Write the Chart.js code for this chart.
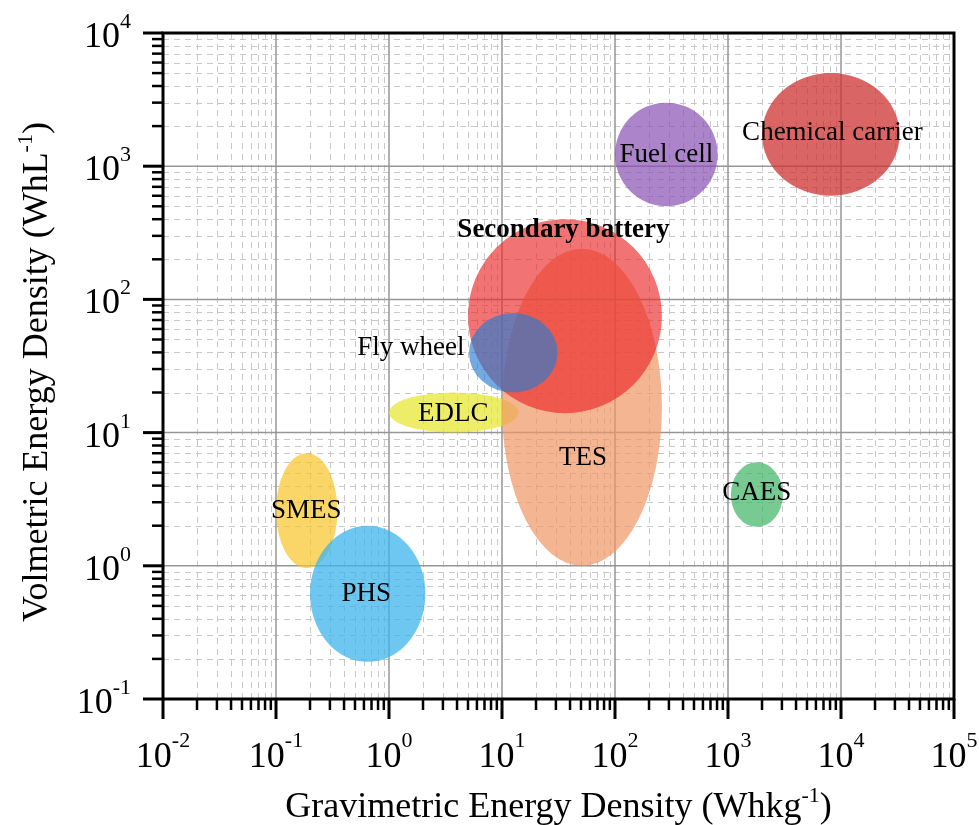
<!DOCTYPE html>
<html>
<head>
<meta charset="utf-8">
<script src="https://cdn.jsdelivr.net/npm/chart.js@4/dist/chart.umd.min.js"></script>
<style>
  html, body { margin: 0; padding: 0; background: #ffffff; }
  #c { display: block; }
</style>
</head>
<body>
<canvas id="c" width="979" height="825"></canvas>
<script>
// Storage technologies, in drawing order (later ones sit on top)
const technologies = ['SMES', 'PHS', 'EDLC', 'TES', 'Secondary battery', 'Fly wheel', 'CAES', 'Fuel cell', 'Chemical carrier'];

// Gravimetric energy density range (Wh/kg)
const gravMin = [0.10, 0.20, 1.0, 10, 5.0, 5.1, 1060, 100, 2000];
const gravMax = [0.35, 2.1, 14, 260, 260, 31, 3060, 810, 33000];

// Volumetric energy density range (Wh/L)
const volMin = [0.96, 0.19, 10, 1.0, 14, 20, 1.96, 500, 600];
const volMax = [7.0, 2.0, 20, 240, 400, 79, 6.0, 3000, 5000];

// Where each name is written (data coordinates)
const labelX = [0.185, 0.63, 3.7, 52, 35, 1.56, 1800, 285, 8400];
const labelY = [2.6, 0.62, 13.9, 6.5, 333, 43, 3.5, 1220, 1780];
const labelBold = [false, false, false, false, true, false, false, false, false];

const fillColors = [
  'rgba(248,195,40,0.70)',   // SMES
  'rgba(60,180,235,0.75)',   // PHS
  'rgba(230,230,40,0.70)',   // EDLC
  'rgba(240,150,100,0.70)',  // TES
  'rgba(235,40,40,0.65)',    // Secondary battery
  'rgba(40,125,210,0.65)',   // Fly wheel
  'rgba(60,180,100,0.70)',   // CAES
  'rgba(135,80,180,0.70)',   // Fuel cell
  'rgba(205,50,50,0.75)'     // Chemical carrier
];

// Axis decades and their tick labels (10 raised to the exponent)
const xDecades = [0.01, 0.1, 1, 10, 100, 1000, 10000, 100000];
const xExponents = ['-2', '-1', '0', '1', '2', '3', '4', '5'];
const yDecades = [0.1, 1, 10, 100, 1000, 10000];
const yExponents = ['-1', '0', '1', '2', '3', '4'];
const minorSteps = [2, 3, 4, 5, 6, 7, 8, 9];

const xTitle = ['Gravimetric Energy Density (Whkg', '-1', ')'];
const yTitle = ['Volmetric Energy Density (WhL', '-1', ')'];

const SERIF = '"Liberation Serif", "Times New Roman", Times, serif';

function minorValues(decades) {
  const out = [];
  for (let i = 0; i < decades.length - 1; i++) {
    for (const m of minorSteps) out.push(decades[i] * m);
  }
  return out;
}

// Draws "base" followed by a raised exponent
function drawPower(ctx, base, exp, x, y, align, baseSize, expSize, raise) {
  ctx.font = baseSize + 'px ' + SERIF;
  const wb = ctx.measureText(base).width;
  ctx.font = expSize + 'px ' + SERIF;
  const we = ctx.measureText(exp).width;
  const total = wb + we;
  let left = x;
  if (align === 'center') left = x - total / 2;
  else if (align === 'right') left = x - total;
  ctx.textAlign = 'left';
  ctx.textBaseline = 'alphabetic';
  ctx.font = baseSize + 'px ' + SERIF;
  ctx.fillText(base, left, y);
  ctx.font = expSize + 'px ' + SERIF;
  ctx.fillText(exp, left + wb, y - raise);
}

function drawTitle(ctx, parts, cx, baseline, size, supSize, raise) {
  ctx.font = size + 'px ' + SERIF;
  const w0 = ctx.measureText(parts[0]).width;
  const w2 = ctx.measureText(parts[2]).width;
  ctx.font = supSize + 'px ' + SERIF;
  const w1 = ctx.measureText(parts[1]).width;
  const total = w0 + w1 + w2;
  const left = cx - total / 2;
  ctx.textAlign = 'left';
  ctx.textBaseline = 'alphabetic';
  ctx.font = size + 'px ' + SERIF;
  ctx.fillText(parts[0], left, baseline);
  ctx.font = supSize + 'px ' + SERIF;
  ctx.fillText(parts[1], left + w0, baseline - raise);
  ctx.font = size + 'px ' + SERIF;
  ctx.fillText(parts[2], left + w0 + w1, baseline);
}

const regionPlugin = {
  id: 'regions',
  beforeDatasetsDraw(chart) {
    const { ctx, chartArea: a, scales: { x, y } } = chart;
    ctx.save();
    // minor grid: dashed
    ctx.strokeStyle = 'rgb(200,200,200)';
    ctx.lineWidth = 1;
    ctx.setLineDash([6, 5]);
    for (const v of minorValues(xDecades)) {
      const px = Math.round(x.getPixelForValue(v)) + 0.5;
      ctx.beginPath(); ctx.moveTo(px, a.top); ctx.lineTo(px, a.bottom); ctx.stroke();
    }
    for (const v of minorValues(yDecades)) {
      const py = Math.round(y.getPixelForValue(v)) + 0.5;
      ctx.beginPath(); ctx.moveTo(a.left, py); ctx.lineTo(a.right, py); ctx.stroke();
    }
    // major grid: solid
    ctx.setLineDash([]);
    ctx.strokeStyle = 'rgb(150,150,150)';
    ctx.lineWidth = 1.5;
    for (const v of xDecades) {
      const px = x.getPixelForValue(v);
      ctx.beginPath(); ctx.moveTo(px, a.top); ctx.lineTo(px, a.bottom); ctx.stroke();
    }
    for (const v of yDecades) {
      const py = y.getPixelForValue(v);
      ctx.beginPath(); ctx.moveTo(a.left, py); ctx.lineTo(a.right, py); ctx.stroke();
    }
    ctx.restore();
  },
  afterDatasetsDraw(chart) {
    const { ctx, scales: { x, y } } = chart;
    ctx.save();
    chart.data.datasets.forEach((ds) => {
      const [p0, p1] = ds.data;
      const x0 = x.getPixelForValue(p0.x), x1 = x.getPixelForValue(p1.x);
      const y0 = y.getPixelForValue(p0.y), y1 = y.getPixelForValue(p1.y);
      ctx.beginPath();
      ctx.ellipse((x0 + x1) / 2, (y0 + y1) / 2, Math.abs(x1 - x0) / 2, Math.abs(y1 - y0) / 2, 0, 0, Math.PI * 2);
      ctx.fillStyle = ds.backgroundColor;
      ctx.fill();
    });
    // names
    ctx.fillStyle = '#000';
    ctx.textAlign = 'center';
    ctx.textBaseline = 'middle';
    technologies.forEach((name, i) => {
      ctx.font = (labelBold[i] ? 'bold ' : '') + '27px ' + SERIF;
      ctx.fillText(name, x.getPixelForValue(labelX[i]), y.getPixelForValue(labelY[i]));
    });
    ctx.restore();
  },
  afterDraw(chart) {
    const { ctx, chartArea: a, scales: { x, y } } = chart;
    ctx.save();
    ctx.strokeStyle = '#000';
    ctx.lineCap = 'butt';
    // ticks on left and bottom, pointing outward
    ctx.lineWidth = 3;
    for (const v of xDecades) {
      const px = x.getPixelForValue(v);
      ctx.beginPath(); ctx.moveTo(px, a.bottom); ctx.lineTo(px, a.bottom + 20); ctx.stroke();
    }
    for (const v of yDecades) {
      const py = y.getPixelForValue(v);
      ctx.beginPath(); ctx.moveTo(a.left, py); ctx.lineTo(a.left - 20, py); ctx.stroke();
    }
    ctx.lineWidth = 2.5;
    for (const v of minorValues(xDecades)) {
      const px = x.getPixelForValue(v);
      ctx.beginPath(); ctx.moveTo(px, a.bottom); ctx.lineTo(px, a.bottom + 11); ctx.stroke();
    }
    for (const v of minorValues(yDecades)) {
      const py = y.getPixelForValue(v);
      ctx.beginPath(); ctx.moveTo(a.left, py); ctx.lineTo(a.left - 11, py); ctx.stroke();
    }
    // frame
    ctx.lineWidth = 3;
    ctx.strokeRect(a.left, a.top, a.right - a.left, a.bottom - a.top);

    // tick labels
    ctx.fillStyle = '#000';
    xDecades.forEach((v, i) => {
      drawPower(ctx, '10', xExponents[i], x.getPixelForValue(v), 767, 'center', 36, 22, 20);
    });
    yDecades.forEach((v, i) => {
      drawPower(ctx, '10', yExponents[i], 131, y.getPixelForValue(v) + 14, 'right', 36, 22, 19);
    });

    // axis titles
    drawTitle(ctx, xTitle, (a.left + a.right) / 2, 817, 36, 22, 15);
    ctx.translate(47, (a.top + a.bottom) / 2 + 6);
    ctx.rotate(-Math.PI / 2);
    drawTitle(ctx, yTitle, 0, 0, 36, 22, 15);
    ctx.restore();
  }
};

const datasets = technologies.map((name, i) => ({
  label: name,
  data: [{ x: gravMin[i], y: volMin[i] }, { x: gravMax[i], y: volMax[i] }],
  backgroundColor: fillColors[i],
  pointRadius: 0,
  pointHoverRadius: 0,
  showLine: false
}));

new Chart(document.getElementById('c'), {
  type: 'scatter',
  data: { datasets },
  options: {
    responsive: false,
    animation: false,
    devicePixelRatio: 1,
    layout: { padding: { left: 0, top: 33, right: 25, bottom: 0 } },
    plugins: { legend: { display: false }, tooltip: { enabled: false } },
    events: [],
    scales: {
      x: {
        type: 'logarithmic',
        min: xDecades[0],
        max: xDecades[xDecades.length - 1],
        ticks: { display: false },
        grid: { display: false },
        border: { display: false },
        afterFit(scale) { scale.height = 126; }
      },
      y: {
        type: 'logarithmic',
        min: yDecades[0],
        max: yDecades[yDecades.length - 1],
        ticks: { display: false },
        grid: { display: false },
        border: { display: false },
        afterFit(scale) { scale.width = 163; }
      }
    }
  },
  plugins: [regionPlugin]
});
</script>
</body>
</html>
